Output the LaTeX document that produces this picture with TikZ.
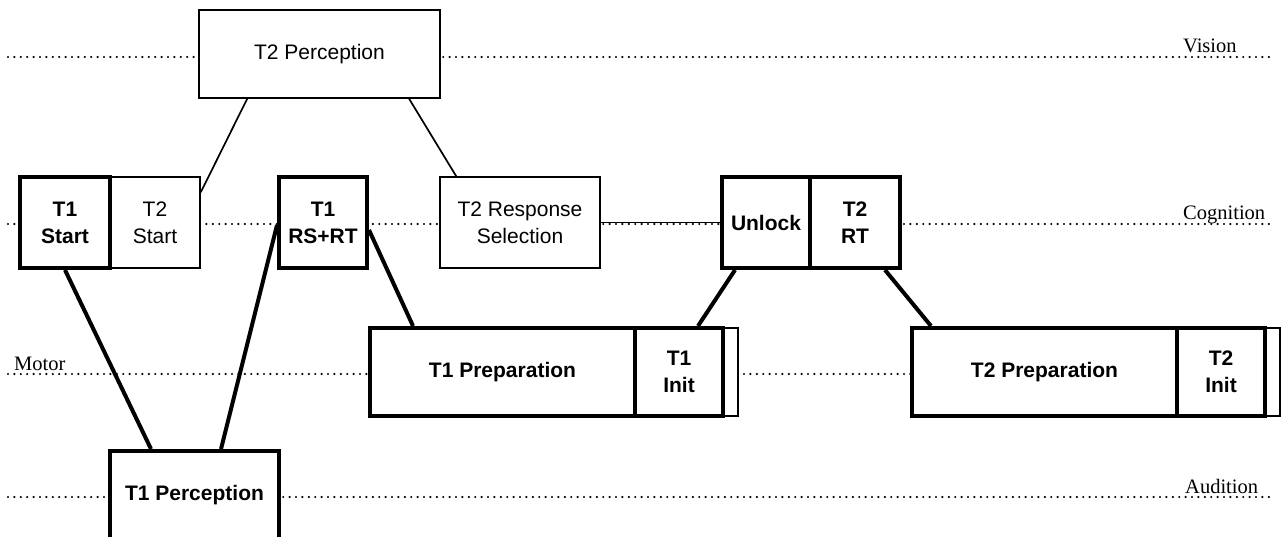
\documentclass[tikz,border=0pt]{standalone}
\usepackage{fontspec}
\setmainfont{Liberation Serif}
\setsansfont{Liberation Sans}
\usetikzlibrary{calc}
\begin{document}
\begin{tikzpicture}[x=1pt,y=-1pt,
  lane/.style={line width=2.4pt, line cap=round, dash pattern=on 0pt off 6.4pt},
  thinbox/.style={draw, fill=white, line width=1.7pt, inner sep=0pt, align=center,
    font=\sffamily\fontsize{21}{27}\selectfont},
  thickbox/.style={thinbox, line width=4pt, font=\sffamily\bfseries\fontsize{21}{27}\selectfont},
  thinlink/.style={line width=1.7pt},
  thicklink/.style={line width=4pt},
  lanelabel/.style={font=\rmfamily\fontsize{20.5}{24}\selectfont, inner sep=0pt, anchor=base west}]
\useasboundingbox (0,0) rectangle (1282,537);
\clip (0,0) rectangle (1282,537);
% lanes
\coordinate (v0) at (8,57);   \coordinate (v1) at (1270,57);
\coordinate (c0) at (8,224);  \coordinate (c1) at (1270,224);
\coordinate (m0) at (8,374);  \coordinate (m1) at (912,374);
\coordinate (a0) at (8,497);  \coordinate (a1) at (1270,497);
\draw[lane] (v0) -- (v1);
\draw[lane] (c0) -- (c1);
\draw[lane] (m0) -- (m1);
\draw[lane] (a0) -- (a1);
\node[lanelabel] (lvision) at (1183,53) {Vision};
\node[lanelabel] (lcog) at (1183,220) {Cognition};
\node[lanelabel] (lmotor) at (14,370) {Motor};
\node[lanelabel] (laud) at (1185,493) {Audition};
% boxes
\node[thinbox, minimum width=241, minimum height=88] (t2perc) at (319.5,54) {T2 Perception};
\node[thinbox, minimum width=90, minimum height=91] (t2start) at (155,222.5) {T2\\Start};
\node[thickbox, minimum width=90, minimum height=91] (t1start) at (65,222.5) {T1\\Start};
\node[thickbox, minimum width=88, minimum height=91] (t1rs) at (323,222.5) {T1\\RS+RT};
\node[thinbox, minimum width=160, minimum height=91] (t2rs) at (520,222.5) {T2 Response\\Selection};
\node[thickbox, minimum width=88, minimum height=91] (unlock) at (766,222.5) {Unlock};
\node[thickbox, minimum width=90, minimum height=91] (t2rt) at (855,222.5) {T2\\RT};
\node[thinbox, minimum width=15, minimum height=88] (t1ext) at (730.5,372) {};
\node[thickbox, minimum width=265, minimum height=88] (t1prep) at (502.5,372) {T1 Preparation};
\node[thickbox, minimum width=88, minimum height=88] (t1init) at (679,372) {T1\\Init};
\node[thinbox, minimum width=15, minimum height=88] (t2ext) at (1272.5,372) {};
\node[thickbox, minimum width=265, minimum height=88] (t2prep) at (1044.5,372) {T2 Preparation};
\node[thickbox, minimum width=88, minimum height=88] (t2init) at (1221,372) {T2\\Init};
\node[thickbox, minimum width=169, minimum height=88] (t1perc) at (194.5,495) {T1 Perception};
% connectors
\draw[thinlink] ([xshift=49pt]t2perc.south west) -- ([yshift=-16pt]t2start.north east);
\draw[thinlink] ([xshift=211pt]t2perc.south west) -- ([xshift=17pt]t2rs.north west);
\draw[thinlink] (t2rs.east) -- (unlock.west);
\draw[thicklink] (t1start.south) -- ([xshift=43pt]t1perc.north west);
\draw[thicklink] ([xshift=113pt]t1perc.north west) -- ([yshift=-50pt]t1rs.north west);
\draw[thicklink] ([yshift=-55pt]t1rs.north east) -- ([xshift=45pt]t1prep.north west);
\draw[thicklink] ([xshift=15pt]unlock.south west) -- ([xshift=65pt]t1init.north west);
\draw[thicklink] ([xshift=77pt]t2rt.south west) -- ([xshift=21pt]t2prep.north west);
\end{tikzpicture}
\end{document}
